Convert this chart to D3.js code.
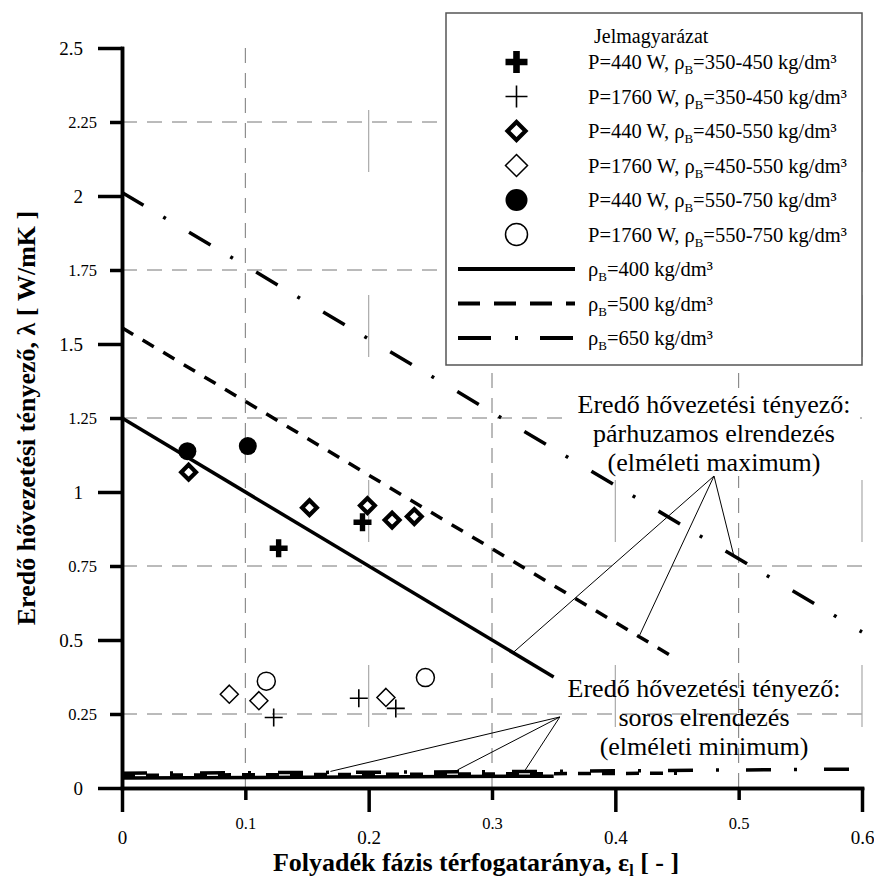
<!DOCTYPE html>
<html>
<head>
<meta charset="utf-8">
<script src="https://cdn.jsdelivr.net/npm/d3@7"></script>
<style>
  body { margin: 0; background: #fff; }
  svg text { font-family: "Liberation Serif", "Times New Roman", serif; fill: #000; }
</style>
</head>
<body>
<div id="plot"></div>
<script>
// tick values
const xMajor = [0, 0.2, 0.4, 0.6];
const xMinor = [0.1, 0.3, 0.5];
const yMajor = [0, 0.5, 1, 1.5, 2, 2.5];
const yMinor = [0.25, 0.75, 1.25, 1.75, 2.25];

// measured points [eps, lambda]
const p440_350 = [[0.127, 0.81], [0.195, 0.898]];
const p1760_350 = [[0.123, 0.238], [0.192, 0.303], [0.222, 0.269]];
const p440_450 = [[0.054, 1.067], [0.152, 0.947], [0.199, 0.954], [0.219, 0.905], [0.237, 0.917]];
const p1760_450 = [[0.087, 0.317], [0.111, 0.295], [0.214, 0.306]];
const p440_550 = [[0.053, 1.138], [0.102, 1.155]];
const p1760_550 = [[0.117, 0.361], [0.246, 0.373]];

// theoretical lines: parallel (max) and serial (min)
const max400 = [[0, 1.25], [0.35, 0.375]];
const max500 = [[0, 1.555], [0.45, 0.435]];
const max650 = [[0, 2.012], [0.6, 0.527]];
const min400 = [[0, 0.034], [0.35, 0.04]];
const min500 = [[0, 0.043], [0.45, 0.05]];
const min650 = [[0, 0.05], [0.3, 0.055], [0.6, 0.064]];

// annotation pointers
const parAnchor = [0.48, 1.054];
const parTargets = [[0.317, 0.457], [0.419, 0.51], [0.496, 0.786]];
const serAnchor = [0.355, 0.24];
const serTargets = [[0.169, 0.056], [0.272, 0.061], [0.327, 0.061]];

const W = 874, H = 880;
const FONT = '"Liberation Serif", "Times New Roman", serif';
const svg = d3.select("#plot").append("svg").attr("width", W).attr("height", H)
  .attr("font-family", FONT);

const x = d3.scaleLinear().domain([0, 0.6]).range([122, 862]);
const y = d3.scaleLinear().domain([0, 2.5]).range([788, 48]);

// grid
svg.append("g").selectAll("line").data(yMinor).join("line")
  .attr("x1", x(0)).attr("x2", x(0.6))
  .attr("y1", d => y(d)).attr("y2", d => y(d))
  .attr("stroke", "#777").attr("stroke-width", 1).attr("stroke-dasharray", "15,10");
svg.append("g").selectAll("line").data(xMinor).join("line")
  .attr("x1", d => x(d)).attr("x2", d => x(d))
  .attr("y1", y(2.5)).attr("y2", y(0))
  .attr("stroke", "#777").attr("stroke-width", 1).attr("stroke-dasharray", "15,10");
svg.append("g").selectAll("line").data(xMajor.slice(1)).join("line")
  .attr("x1", d => x(d)).attr("x2", d => x(d))
  .attr("y1", y(2.5)).attr("y2", y(0))
  .attr("stroke", "#aaa").attr("stroke-width", 1.2).attr("stroke-dasharray", "0,62,62,61");

// legend
const lg = svg.append("g").attr("transform", "translate(446,13)");
lg.append("rect").attr("width", 416).attr("height", 352)
  .attr("fill", "#fff").attr("stroke", "#555").attr("stroke-width", 1.5);
lg.append("text").attr("x", 148).attr("y", 30).attr("font-size", 20).text("Jelmagyarázat");

const plus = s => `M${-s},0H${s}M0,${-s}V${s}`;
const diamond = s => `M0,${-s}L${s},0L0,${s}L${-s},0Z`;

const markerStyles = [
  {data: p440_350, dens: "350-450", P: "440", draw: (g, s) => g.append("path").attr("d", plus(s)).attr("stroke", "#000").attr("stroke-width", s * 0.6)},
  {data: p1760_350, dens: "350-450", P: "1760", draw: (g, s) => g.append("path").attr("d", plus(s)).attr("stroke", "#000").attr("stroke-width", 1.6)},
  {data: p440_450, dens: "450-550", P: "440", draw: (g, s) => g.append("path").attr("d", diamond(s * 0.82)).attr("fill", "#fff").attr("stroke", "#000").attr("stroke-width", 4.2)},
  {data: p1760_450, dens: "450-550", P: "1760", draw: (g, s) => g.append("path").attr("d", diamond(s)).attr("fill", "#fff").attr("stroke", "#000").attr("stroke-width", 1.5)},
  {data: p440_550, dens: "550-750", P: "440", draw: (g, s) => g.append("circle").attr("r", s).attr("fill", "#000")},
  {data: p1760_550, dens: "550-750", P: "1760", draw: (g, s) => g.append("circle").attr("r", s).attr("fill", "#fff").attr("stroke", "#000").attr("stroke-width", 1.5)}
];

function rhoLabel(t, pre, post) {
  t.append("tspan").text(pre + "\u03c1");
  t.append("tspan").attr("font-size", 13).attr("dy", 5).text("B");
  t.append("tspan").attr("dy", -5).text(post);
}

markerStyles.forEach(function(m, i) {
  const cy = 49 + i * 34.5;
  const g = lg.append("g").attr("transform", `translate(70.5,${cy})`);
  m.draw(g, 11);
  const t = lg.append("text").attr("x", 142).attr("y", cy + 7).attr("font-size", 20.5);
  rhoLabel(t, `P=${m.P} W, `, `=${m.dens} kg/dm\u00b3`);
});

const lineStyles = [
  {max: max400, min: min400, rho: "400", dash: null, legDash: null},
  {max: max500, min: min500, rho: "500", dash: "13,11", legDash: "22,14"},
  {max: max650, min: min650, rho: "650", dash: "25,23,3,27", legDash: "33,24,3,22"}
];

lineStyles.forEach(function(l, i) {
  const cy = 256 + i * 34.5;
  lg.append("line").attr("x1", 12).attr("x2", 129).attr("y1", cy).attr("y2", cy)
    .attr("stroke", "#000").attr("stroke-width", 4)
    .attr("stroke-dasharray", l.legDash);
  const t = lg.append("text").attr("x", 142).attr("y", cy + 7).attr("font-size", 20.5);
  rhoLabel(t, "", `=${l.rho} kg/dm\u00b3`);
});

// white box behind the upper annotation
svg.append("rect").attr("x", 570).attr("y", 392).attr("width", 290).attr("height", 84).attr("fill", "#fff");

// curves
const line = d3.line().x(d => x(d[0])).y(d => y(d[1]));
lineStyles.forEach(function(l) {
  [l.max, l.min].forEach(function(data) {
    svg.append("path").datum(data).attr("d", line)
      .attr("fill", "none").attr("stroke", "#000").attr("stroke-width", 3.5)
      .attr("stroke-dasharray", l.dash);
  });
});

// data points
markerStyles.forEach(function(m) {
  svg.append("g").selectAll("g").data(m.data).join("g")
    .attr("transform", d => `translate(${x(d[0])},${y(d[1])})`)
    .each(function() { m.draw(d3.select(this), 9); });
});

// annotations
function pointers(anchor, targets) {
  svg.append("g").selectAll("line").data(targets).join("line")
    .attr("x1", x(anchor[0])).attr("y1", y(anchor[1]))
    .attr("x2", d => x(d[0])).attr("y2", d => y(d[1]))
    .attr("stroke", "#000").attr("stroke-width", 1);
}
pointers(parAnchor, parTargets);
pointers(serAnchor, serTargets);

function note(cx, baseY, lines) {
  svg.append("text").attr("text-anchor", "middle").attr("font-size", 26)
    .selectAll("tspan").data(lines).join("tspan")
    .attr("x", cx).attr("y", (d, i) => baseY + i * 28.8).text(d => d);
}
note(x(parAnchor[0]), 413, ["Eredő hővezetési tényező:", "párhuzamos elrendezés", "(elméleti maximum)"]);
note(704, 697, ["Eredő hővezetési tényező:", "soros elrendezés", "(elméleti minimum)"]);

// axes
function styleAxis(g) {
  g.attr("font-family", FONT);
  g.selectAll("path, line").attr("stroke", "#000").attr("stroke-width", 3.5);
  g.select(".domain").attr("stroke-linecap", "square");
}
const fmt = d => String(d);

svg.append("g").attr("transform", `translate(0,${y(0)})`)
  .call(d3.axisBottom(x).tickValues(xMinor).tickSize(12).tickFormat(fmt).tickSizeOuter(0))
  .call(styleAxis)
  .call(g => g.selectAll("text").attr("dy", null).attr("y", 41).attr("font-size", 16.5));
svg.append("g").attr("transform", `translate(0,${y(0)})`)
  .call(d3.axisBottom(x).tickValues(xMajor).tickSize(24).tickFormat(fmt).tickSizeOuter(0))
  .call(styleAxis)
  .call(g => g.selectAll("text").attr("dy", null).attr("y", 56).attr("font-size", 19));

svg.append("g").attr("transform", `translate(${x(0)},0)`)
  .call(d3.axisLeft(y).tickValues(yMinor).tickSize(12).tickPadding(13).tickFormat(fmt).tickSizeOuter(0))
  .call(styleAxis)
  .call(g => g.selectAll("text").attr("font-size", 16.5));
svg.append("g").attr("transform", `translate(${x(0)},0)`)
  .call(d3.axisLeft(y).tickValues(yMajor).tickSize(24).tickPadding(15).tickFormat(fmt).tickSizeOuter(0))
  .call(styleAxis)
  .call(g => g.selectAll("text").attr("font-size", 19));

// axis titles
const xt = svg.append("text").attr("x", 476).attr("y", 871).attr("text-anchor", "middle")
  .attr("font-size", 26).attr("font-weight", "bold");
xt.append("tspan").text("Folyadék fázis térfogataránya, \u03b5");
xt.append("tspan").attr("font-size", 16).attr("dy", 5).text("l");
xt.append("tspan").attr("dy", -5).text(" [ - ]");

svg.append("text").attr("transform", "translate(35,418) rotate(-90)")
  .attr("text-anchor", "middle").attr("font-size", 26).attr("font-weight", "bold")
  .text("Eredő hővezetési tényező, \u03bb [ W/mK ]");
</script>
</body>
</html>
